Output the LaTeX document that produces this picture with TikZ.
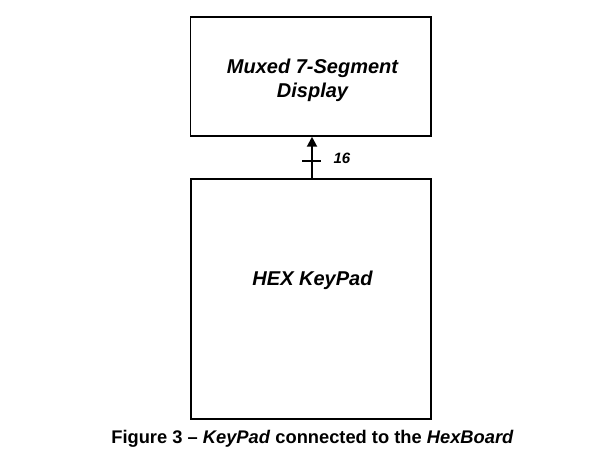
\documentclass[tikz,border=0pt]{standalone}
\usepackage{fontspec}
\setmainfont{Liberation Sans}
\usetikzlibrary{arrows.meta,calc}
\begin{document}
\begin{tikzpicture}[x=1pt,y=-1pt,
  blockbox/.style={draw=black,line width=1.5pt,rectangle,inner sep=0pt},
  blocktext/.style={font=\fontsize{20}{24}\selectfont\bfseries\itshape,align=center,inner sep=0pt},
  buslabel/.style={font=\fontsize{15}{18}\selectfont\bfseries\itshape,inner sep=0pt},
  captiontext/.style={font=\fontsize{18.3}{22}\selectfont\bfseries,inner sep=0pt}]
\useasboundingbox (0,0) rectangle (606,462);
\node[blockbox,minimum width=240.5pt,minimum height=119pt] (disp) at (310.75,76.5) {};
\node[blocktext] (disptext) at (312.5,80) {Muxed 7-Segment\\Display};
\node[blockbox,minimum width=240pt,minimum height=240pt] (kp) at (311,299) {};
\node[blocktext] (kptext) at (312.5,280.5) {HEX KeyPad};
\draw[line width=2pt,-{Triangle[width=10pt,length=10pt]}] ($(kp.north)+(1,0)$) -- ($(disp.south)+(1.25,0)$);
\coordinate (tl) at (302,161);
\coordinate (tr) at (321,161);
\draw[line width=1.3pt] (tl) -- (tr);
\node[buslabel] (bw) at (342,158) {16};
\node[captiontext] (cap) at (312.5,438.5) {Figure 3 – \textit{KeyPad} connected to the \textit{HexBoard}};
\end{tikzpicture}
\end{document}
